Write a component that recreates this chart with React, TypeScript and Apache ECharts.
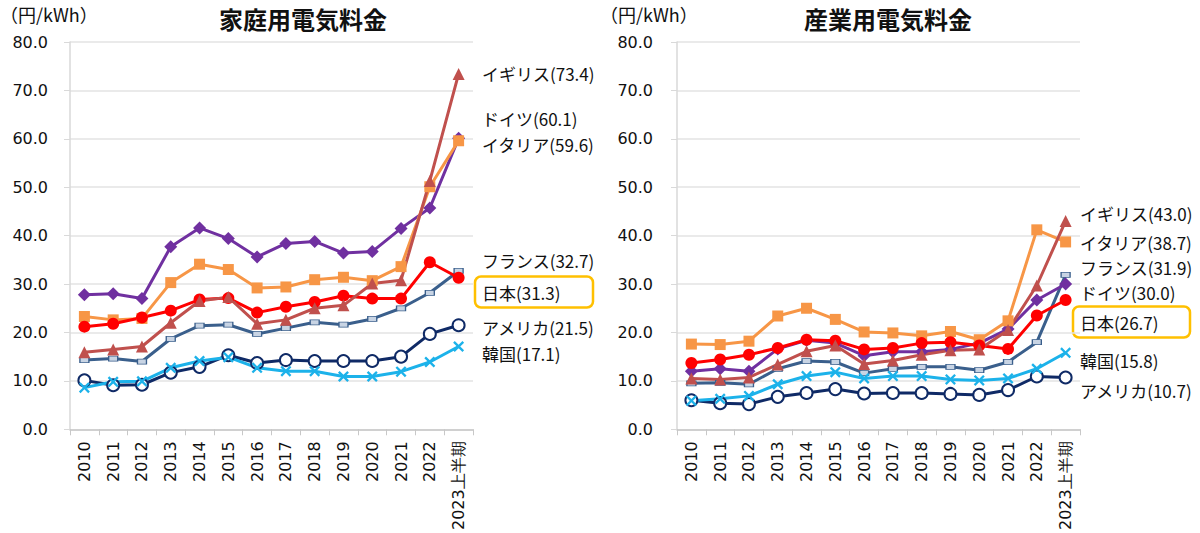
import { useEffect, useRef } from 'react';
import * as echarts from 'echarts';

const years = ['2010', '2011', '2012', '2013', '2014', '2015', '2016', '2017', '2018', '2019', '2020', '2021', '2022', '2023上半期'];
const yTicks = [0, 10, 20, 30, 40, 50, 60, 70, 80];

// 家庭用 (円/kWh)
const homeUK = [15.9, 16.5, 17.1, 22.0, 26.5, 27.3, 21.8, 22.6, 25.0, 25.6, 30.1, 30.8, 51.3, 73.4];
const homeDE = [27.8, 28.0, 27.0, 37.7, 41.6, 39.4, 35.6, 38.4, 38.8, 36.4, 36.7, 41.5, 45.7, 60.1];
const homeIT = [23.3, 22.6, 22.9, 30.3, 34.1, 33.0, 29.2, 29.4, 30.9, 31.4, 30.7, 33.6, 50.1, 59.6];
const homeFR = [14.3, 14.6, 14.0, 18.7, 21.4, 21.6, 19.7, 20.9, 22.1, 21.6, 22.8, 25.0, 28.2, 32.7];
const homeJP = [21.2, 21.8, 23.1, 24.5, 26.8, 27.1, 24.1, 25.3, 26.3, 27.6, 27.0, 27.0, 34.5, 31.3];
const homeUS = [10.1, 9.1, 9.2, 11.7, 12.9, 15.3, 13.7, 14.3, 14.1, 14.1, 14.1, 15.0, 19.7, 21.5];
const homeKR = [8.6, 9.8, 9.9, 12.7, 14.1, 14.9, 12.7, 12.0, 12.0, 10.9, 10.9, 11.9, 13.9, 17.1];

// 産業用 (円/kWh)
const indUK = [10.5, 10.3, 10.7, 13.4, 16.1, 17.3, 13.5, 14.2, 15.4, 16.3, 16.5, 20.5, 29.7, 43.0];
const indDE = [12.0, 12.5, 12.0, 16.6, 18.4, 17.8, 15.2, 16.0, 16.0, 16.5, 17.8, 20.7, 26.7, 30.0];
const indIT = [17.6, 17.5, 18.2, 23.4, 25.0, 22.7, 20.1, 19.9, 19.3, 20.2, 18.5, 22.4, 41.2, 38.7];
const indFR = [9.5, 9.6, 9.3, 12.5, 14.1, 13.9, 11.6, 12.5, 12.9, 12.9, 12.2, 13.9, 18.0, 31.9];
const indJP = [13.7, 14.4, 15.4, 16.8, 18.5, 18.3, 16.5, 16.8, 17.8, 18.0, 17.3, 16.6, 23.5, 26.7];
const indUS = [6.0, 5.4, 5.2, 6.7, 7.5, 8.3, 7.4, 7.5, 7.5, 7.3, 7.1, 8.1, 10.9, 10.7];
const indKR = [5.9, 6.3, 6.9, 9.3, 11.0, 11.8, 10.5, 11.0, 11.0, 10.3, 10.1, 10.5, 12.5, 15.8];

const CROSS = 'path://M0,1.5L1.5,0L5,3.5L8.5,0L10,1.5L6.5,5L10,8.5L8.5,10L5,6.5L1.5,10L0,8.5L3.5,5Z';

// drawing order: later entries sit on top
const countries = [
  { name: 'フランス', home: homeFR, ind: indFR, color: '#3a5f8c', symbol: 'rect', size: [9, 5], fill: '#c8d4e4', border: 1 },
  { name: 'アメリカ', home: homeUS, ind: indUS, color: '#0f2a66', symbol: 'emptyCircle', size: 12, fill: '#0f2a66', border: 1.2 },
  { name: '韓国', home: homeKR, ind: indKR, color: '#1cb2ea', symbol: CROSS, size: 11, fill: '#1cb2ea', border: 0 },
  { name: 'ドイツ', home: homeDE, ind: indDE, color: '#7030a0', symbol: 'diamond', size: 13, fill: '#7030a0', border: 0 },
  { name: 'イタリア', home: homeIT, ind: indIT, color: '#f79646', symbol: 'rect', size: 11, fill: '#f79646', border: 0 },
  { name: '日本', home: homeJP, ind: indJP, color: '#ff0000', symbol: 'circle', size: 12, fill: '#ff0000', border: 0 },
  { name: 'イギリス', home: homeUK, ind: indUK, color: '#c0504d', symbol: 'triangle', size: 12, fill: '#c0504d', border: 0 },
];

// end label placement (pixel y centres), per chart
const homeLabelY: Record<string, number> = {
  'イギリス': 73, 'ドイツ': 118, 'イタリア': 144, 'フランス': 260, '日本': 292, 'アメリカ': 327, '韓国': 353,
};
const indLabelY: Record<string, number> = {
  'イギリス': 213, 'イタリア': 242, 'フランス': 267, 'ドイツ': 292, '日本': 322, '韓国': 360, 'アメリカ': 390,
};

const JP_FONT = 'Noto Sans CJK JP, sans-serif';
const NUM_FONT = 'DejaVu Sans, sans-serif';

export default function App() {
  const chartRef = useRef<HTMLDivElement>(null);

  useEffect(() => {
    if (!chartRef.current) return;
    const chart = echarts.init(chartRef.current, null, { renderer: 'svg' });

    const grids = [
      { left: 70, top: 42, width: 403, height: 392 },
      { left: 677, top: 42, width: 403, height: 392 },
    ];

    const xAxis = grids.map((_, i) => ({
      type: 'category' as const,
      gridIndex: i,
      data: years,
      boundaryGap: true,
      axisLine: { lineStyle: { color: '#c8c8c8', width: 1.5 } },
      axisTick: { show: true, length: 6, lineStyle: { color: '#c8c8c8' } },
      axisLabel: {
        rotate: 90,
        interval: 0,
        margin: 12,
        color: '#111',
        fontSize: 16,
        fontFamily: NUM_FONT,
      },
    }));

    const yAxis = grids.map((_, i) => ({
      type: 'value' as const,
      gridIndex: i,
      min: yTicks[0],
      max: yTicks[yTicks.length - 1],
      interval: 10,
      axisLine: { show: true, lineStyle: { color: '#d9d9d9', width: 1.5 } },
      axisTick: { show: true, length: 6, lineStyle: { color: '#d9d9d9' } },
      splitLine: { lineStyle: { color: '#e3e3e3', width: 1.5 } },
      axisLabel: {
        margin: i === 0 ? 22 : 24,
        color: '#111',
        fontSize: 16,
        fontFamily: NUM_FONT,
        formatter: (v: number) => v.toFixed(1),
      },
    }));

    const series: echarts.SeriesOption[] = [];
    [0, 1].forEach(gi => {
      countries.forEach(c => {
        series.push({
          name: c.name,
          type: 'line',
          xAxisIndex: gi,
          yAxisIndex: gi,
          data: gi === 0 ? c.home : c.ind,
          symbol: c.symbol,
          symbolSize: c.size as number,
          showAllSymbol: true,
          lineStyle: { color: c.color, width: 3 },
          itemStyle: {
            color: c.fill,
            borderColor: c.color,
            borderWidth: c.border,
          },
        });
      });
    });

    const graphic: any[] = [
      { type: 'text', left: 0, top: 5, style: { text: '（円/kWh）', font: `18px ${JP_FONT}`, fill: '#111' } },
      { type: 'text', left: 600, top: 5, style: { text: '（円/kWh）', font: `18px ${JP_FONT}`, fill: '#111' } },
      { type: 'text', x: 303, y: 18, style: { text: '家庭用電気料金', font: `bold 24px ${JP_FONT}`, fill: '#111', align: 'center', verticalAlign: 'middle' } },
      { type: 'text', x: 888, y: 18, style: { text: '産業用電気料金', font: `bold 24px ${JP_FONT}`, fill: '#111', align: 'center', verticalAlign: 'middle' } },
    ];

    const addLabels = (gi: number, ys: Record<string, number>) => {
      const x0 = gi === 0 ? 482 : 1080;
      countries.forEach(c => {
        const vals = gi === 0 ? c.home : c.ind;
        const last = vals[vals.length - 1];
        const y = ys[c.name];
        if (c.name === '日本') {
          graphic.push({
            type: 'rect',
            shape: { x: x0 - 7, y: y - 15.5, width: gi === 0 ? 118 : 117, height: 31, r: 6 },
            style: { fill: 'none', stroke: '#ffc000', lineWidth: 2.5 },
          });
        }
        graphic.push({
          type: 'text',
          x: x0,
          y,
          style: {
            text: `${c.name}(${last.toFixed(1)})`,
            font: `17px ${JP_FONT}`,
            fill: '#111',
            verticalAlign: 'middle',
          },
        });
      });
    };
    addLabels(0, homeLabelY);
    addLabels(1, indLabelY);

    chart.setOption({
      animation: false,
      grid: grids,
      xAxis,
      yAxis,
      series,
      graphic,
    });

    return () => {
      chart.dispose();
    };
  }, []);

  return (
    <div
      ref={chartRef}
      style={{ position: 'fixed', left: 0, top: 0, width: '1200px', height: '533px', background: '#fff' }}
    />
  );
}
